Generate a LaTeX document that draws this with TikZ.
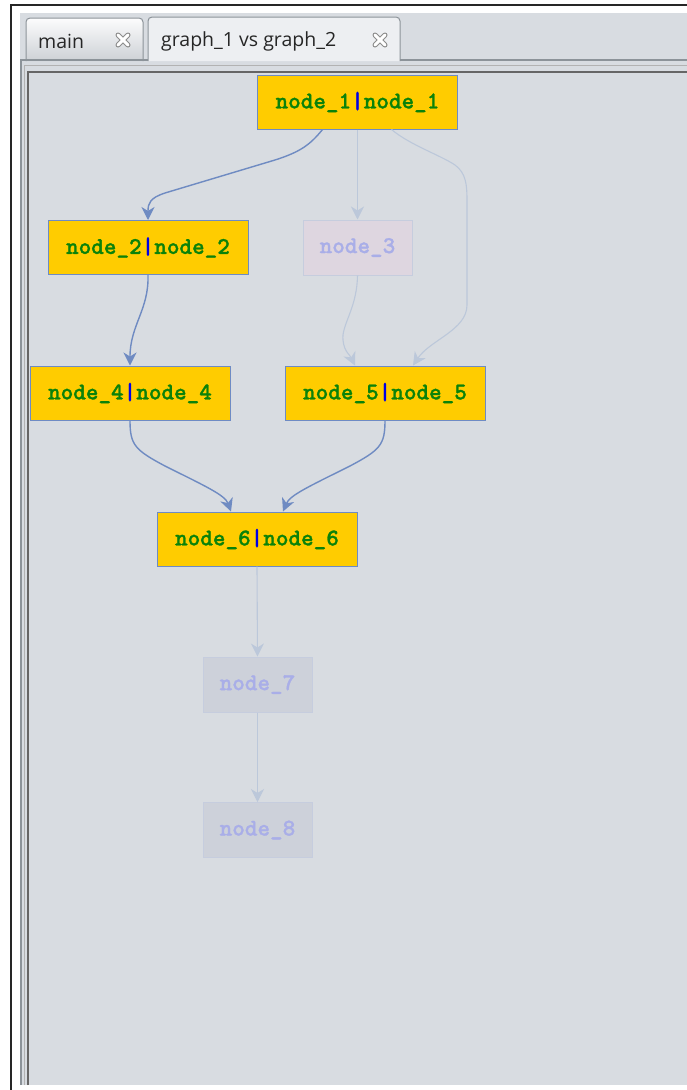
\documentclass[tikz,border=0pt]{standalone}
\usepackage{fontspec}
\usetikzlibrary{arrows.meta}
\newfontfamily\tabfont{Open Sans}
\newfontfamily\nodefont{lmmonolt10-bold.otf}[FakeBold=1.2]
\definecolor{bg}{HTML}{D8DCE1}
\definecolor{gold}{HTML}{FFCC00}
\definecolor{nborder}{HTML}{6E8BC4}
\definecolor{ngreen}{HTML}{0A820A}
\definecolor{nbar}{HTML}{0000E6}
\definecolor{fadefill}{HTML}{DED6E0}
\definecolor{greyfill}{HTML}{CDD1DA}
\definecolor{fadeborder}{HTML}{C6CDDE}
\definecolor{fadetext}{HTML}{A9AEE8}
\definecolor{edgeon}{HTML}{6F8BC2}
\definecolor{edgeoff}{HTML}{BCC8DA}
\definecolor{tabline}{HTML}{8C9399}
\tikzset{
  x=1pt, y=-1pt,
  matchbox/.style={draw=nborder, line width=1pt, fill=gold, minimum width=200pt, minimum height=54pt, inner sep=0pt, font=\nodefont\fontsize{24}{24}\selectfont, text=ngreen},
  fadebox/.style={draw=fadeborder, line width=1pt, fill=fadefill, minimum width=109pt, minimum height=55pt, inner sep=0pt, font=\nodefont\fontsize{24}{24}\selectfont, text=fadetext},
  greybox/.style={fadebox, fill=greyfill},
  onedge/.style={draw=edgeon, line width=1.4pt, -{Stealth[length=13pt,width=13pt,inset=4pt]}},
  offedge/.style={draw=edgeoff, line width=1.1pt, -{Stealth[length=13pt,width=13pt,inset=4pt]}},
  tabshape/.style={draw=tabline, line width=1pt, rounded corners=4pt},
  tablabel/.style={font=\tabfont\fontsize{19.5}{19.5}\selectfont, text=black!85, anchor=west, inner sep=0pt},
}
\newcommand{\pairtext}[1]{#1\textcolor{nbar}{|}#1}
\newcommand{\closeicon}[2]{%
  \draw[line width=5pt, draw=black!45, line cap=round] (#1-5,#2-5) -- (#1+5,#2+5) (#1-5,#2+5) -- (#1+5,#2-5);
  \draw[line width=3pt, draw=white, line cap=round] (#1-5,#2-5) -- (#1+5,#2+5) (#1-5,#2+5) -- (#1+5,#2-5);}
\begin{document}
\begin{tikzpicture}
\useasboundingbox (0,0) rectangle (687,1090);
\fill[white] (0,0) rectangle (687,1090);
% outer window frame
\draw[black!85, line width=1.5pt] (11,1090) -- (11,5) -- (687,5);
\fill[bg] (20,13) rectangle (687,1085);
% tabs
\draw[tabshape, top color=white!92!bg, bottom color=bg!95!black] (26,61) -- (26,18) -- (143,18) -- (143,61);
\draw[tabshape, fill=white!55!bg] (148,61) -- (148,17) -- (400,17) -- (400,61);
\node[tablabel] (tabmain) at (38,41) {main};
\node[tablabel] (tabgraph) at (161,41) {graph\_1 vs graph\_2};
\closeicon{123}{40}
\closeicon{380}{40}
% panel frame
\draw[tabline, line width=1.5pt] (21,1085) -- (21,60) -- (148,60);
\draw[tabline, line width=1.5pt] (400,60) -- (687,60);
\draw[black!30, line width=1pt] (24,1085) -- (24,65) -- (687,65);
\draw[black!60, line width=1.6pt] (28,1085) -- (28,72) -- (687,72);
% nodes
\node[matchbox] (n1) at (357.5,102) {\pairtext{node\_1}};
\node[matchbox] (n2) at (148,247.5) {\pairtext{node\_2}};
\node[fadebox]  (n3) at (357.5,247.5) {node\_3};
\node[matchbox] (n4) at (130,393) {\pairtext{node\_4}};
\node[matchbox] (n5) at (385,393) {\pairtext{node\_5}};
\node[matchbox] (n6) at (257,539) {\pairtext{node\_6}};
\node[greybox]  (n7) at (257.5,684.5) {node\_7};
\node[greybox]  (n8) at (257.5,830) {node\_8};
% faded edges
\draw[offedge] (n1.south) -- (n3.north);
\draw[offedge] ([xshift=34pt]n1.south) .. controls (410,145) and (440,155) .. (455,165) .. controls (466,173) and (467,185) .. (467,200) -- (467,305) .. controls (467,330) and (430,340) .. ([xshift=28pt]n5.north);
\draw[offedge] (n3.south) .. controls (357,305) and (345,320) .. (343,335) .. controls (342,350) and (350,355) .. ([xshift=-30pt]n5.north);
\draw[offedge] (n6.south) -- (n7.north);
\draw[offedge] (n7.south) -- (n8.north);
% active edges
\draw[onedge] ([xshift=-35pt]n1.south) .. controls (310,145) and (300,152) .. (275,160) -- (165,193) .. controls (150,198) and (148,203) .. (n2.north);
\draw[onedge] (n2.south) .. controls (149,310) and (130,325) .. (n4.north);
\draw[onedge] (n4.south) .. controls (130,445) and (135,450) .. (165,466) .. controls (205,486) and (225,495) .. ([xshift=-26pt]n6.north);
\draw[onedge] (n5.south) .. controls (385,445) and (380,450) .. (350,466) .. controls (310,486) and (290,495) .. ([xshift=26pt]n6.north);
\end{tikzpicture}
\end{document}
